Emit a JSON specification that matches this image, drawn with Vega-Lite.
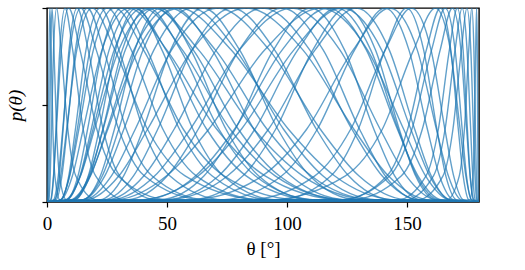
{"$schema":"https://vega.github.io/schema/vega-lite/v6.json","autosize":{"type":"none"},"padding":{"left":47,"top":8,"right":46,"bottom":68},"width":432,"height":194,"background":"white","config":{"view":{"stroke":"black","strokeWidth":1.4},"axis":{"domainColor":"black","tickColor":"black","labelColor":"black","titleColor":"black","labelFont":"Liberation Serif","titleFont":"Liberation Serif","grid":false}},
"data":{"values":[
{"c":1,"t":0,"p":0},{"c":1,"t":0.27,"p":0.011},{"c":1,"t":0.44,"p":0.135},{"c":1,"t":0.6,"p":0.375},{"c":1,"t":0.85,"p":0.783},{"c":1,"t":1.21,"p":1},{"c":1,"t":1.71,"p":0.783},{"c":1,"t":2.44,"p":0.375},{"c":1,"t":3.28,"p":0.135},{"c":1,"t":5.4,"p":0.011},{"c":1,"t":180,"p":0},
{"c":2,"t":0,"p":0},{"c":2,"t":0.55,"p":0.011},{"c":2,"t":0.86,"p":0.135},{"c":2,"t":1.13,"p":0.375},{"c":2,"t":1.54,"p":0.783},{"c":2,"t":2.1,"p":1},{"c":2,"t":2.9,"p":0.783},{"c":2,"t":3.97,"p":0.375},{"c":2,"t":5.2,"p":0.135},{"c":2,"t":8.15,"p":0.011},{"c":2,"t":180,"p":0},
{"c":3,"t":0,"p":0},{"c":3,"t":0.77,"p":0.011},{"c":3,"t":1.34,"p":0.135},{"c":3,"t":1.87,"p":0.375},{"c":3,"t":2.73,"p":0.783},{"c":3,"t":4.03,"p":1},{"c":3,"t":5.89,"p":0.783},{"c":3,"t":8.68,"p":0.375},{"c":3,"t":11.98,"p":0.135},{"c":3,"t":20.7,"p":0.011},{"c":3,"t":180,"p":0},
{"c":4,"t":0,"p":0},{"c":4,"t":1.68,"p":0.011},{"c":4,"t":2.77,"p":0.135},{"c":4,"t":3.75,"p":0.375},{"c":4,"t":5.32,"p":0.783},{"c":4,"t":7.52,"p":1},{"c":4,"t":10.71,"p":0.783},{"c":4,"t":15.08,"p":0.375},{"c":4,"t":20.26,"p":0.135},{"c":4,"t":32.82,"p":0.011},{"c":4,"t":180,"p":0},
{"c":5,"t":0,"p":0},{"c":5,"t":1.5,"p":0.011},{"c":5,"t":2.72,"p":0.135},{"c":5,"t":3.92,"p":0.375},{"c":5,"t":5.95,"p":0.783},{"c":5,"t":9.04,"p":1},{"c":5,"t":13.77,"p":0.783},{"c":5,"t":20.76,"p":0.375},{"c":5,"t":29.47,"p":0.135},{"c":5,"t":50.95,"p":0.011},{"c":5,"t":180,"p":0},
{"c":6,"t":0,"p":0},{"c":6,"t":3.27,"p":0.011},{"c":6,"t":5.14,"p":0.135},{"c":6,"t":6.72,"p":0.375},{"c":6,"t":9.16,"p":0.783},{"c":6,"t":12.55,"p":1},{"c":6,"t":17.19,"p":0.783},{"c":6,"t":23.37,"p":0.375},{"c":6,"t":30.28,"p":0.135},{"c":6,"t":46.01,"p":0.011},{"c":6,"t":180,"p":0},
{"c":7,"t":0,"p":0},{"c":7,"t":2.7,"p":0.011},{"c":7,"t":4.71,"p":0.135},{"c":7,"t":6.56,"p":0.375},{"c":7,"t":9.58,"p":0.783},{"c":7,"t":14.1,"p":1},{"c":7,"t":20.54,"p":0.783},{"c":7,"t":29.88,"p":0.375},{"c":7,"t":40.52,"p":0.135},{"c":7,"t":65.31,"p":0.011},{"c":7,"t":180,"p":0},
{"c":8,"t":0,"p":0},{"c":8,"t":3.78,"p":0.011},{"c":8,"t":6.22,"p":0.135},{"c":8,"t":8.4,"p":0.375},{"c":8,"t":11.83,"p":0.783},{"c":8,"t":16.81,"p":1},{"c":8,"t":23.66,"p":0.783},{"c":8,"t":33.02,"p":0.375},{"c":8,"t":43.69,"p":0.135},{"c":8,"t":66.8,"p":0.011},{"c":8,"t":180,"p":0},
{"c":9,"t":0,"p":0},{"c":9,"t":3.14,"p":0.011},{"c":9,"t":5.68,"p":0.135},{"c":9,"t":8.19,"p":0.375},{"c":9,"t":12.39,"p":0.783},{"c":9,"t":18.79,"p":1},{"c":9,"t":28.32,"p":0.783},{"c":9,"t":41.86,"p":0.375},{"c":9,"t":57.53,"p":0.135},{"c":9,"t":89.77,"p":0.011},{"c":9,"t":180,"p":0},
{"c":10,"t":0,"p":0},{"c":10,"t":5.78,"p":0.011},{"c":10,"t":9.07,"p":0.135},{"c":10,"t":11.84,"p":0.375},{"c":10,"t":16.22,"p":0.783},{"c":10,"t":22.15,"p":1},{"c":10,"t":29.98,"p":0.783},{"c":10,"t":40.13,"p":0.375},{"c":10,"t":51.14,"p":0.135},{"c":10,"t":73.79,"p":0.011},{"c":10,"t":180,"p":0},
{"c":11,"t":0,"p":0},{"c":11,"t":5.67,"p":0.011},{"c":11,"t":9.34,"p":0.135},{"c":11,"t":12.63,"p":0.375},{"c":11,"t":17.89,"p":0.783},{"c":11,"t":25.03,"p":1},{"c":11,"t":35.14,"p":0.783},{"c":11,"t":48.29,"p":0.375},{"c":11,"t":62.19,"p":0.135},{"c":11,"t":89.66,"p":0.011},{"c":11,"t":180,"p":0},
{"c":12,"t":0,"p":0},{"c":12,"t":5.5,"p":0.011},{"c":12,"t":9.5,"p":0.135},{"c":12,"t":13.27,"p":0.375},{"c":12,"t":19.3,"p":0.783},{"c":12,"t":28.18,"p":1},{"c":12,"t":40.26,"p":0.783},{"c":12,"t":56.81,"p":0.375},{"c":12,"t":73.74,"p":0.135},{"c":12,"t":104.77,"p":0.011},{"c":12,"t":180,"p":0},
{"c":13,"t":0,"p":0},{"c":13,"t":8.28,"p":0.011},{"c":13,"t":12.94,"p":0.135},{"c":13,"t":16.91,"p":0.375},{"c":13,"t":23.02,"p":0.783},{"c":13,"t":31.08,"p":1},{"c":13,"t":41.7,"p":0.783},{"c":13,"t":55.19,"p":0.375},{"c":13,"t":68.72,"p":0.135},{"c":13,"t":93.8,"p":0.011},{"c":13,"t":180,"p":0},
{"c":14,"t":0,"p":0},{"c":14,"t":5.8,"p":0.011},{"c":14,"t":10.6,"p":0.135},{"c":14,"t":15.08,"p":0.375},{"c":14,"t":22.87,"p":0.783},{"c":14,"t":34.16,"p":1},{"c":14,"t":49.96,"p":0.783},{"c":14,"t":70.75,"p":0.375},{"c":14,"t":90.85,"p":0.135},{"c":14,"t":123,"p":0.011},{"c":14,"t":180,"p":0},
{"c":15,"t":0,"p":0},{"c":15,"t":8.36,"p":0.011},{"c":15,"t":13.74,"p":0.135},{"c":15,"t":18.44,"p":0.375},{"c":15,"t":25.87,"p":0.783},{"c":15,"t":36.22,"p":1},{"c":15,"t":49.59,"p":0.783},{"c":15,"t":66.54,"p":0.375},{"c":15,"t":82.97,"p":0.135},{"c":15,"t":110.9,"p":0.011},{"c":15,"t":180,"p":0},
{"c":16,"t":0,"p":0},{"c":16,"t":11.56,"p":0.011},{"c":16,"t":17.22,"p":0.135},{"c":16,"t":21.78,"p":0.375},{"c":16,"t":28.57,"p":0.783},{"c":16,"t":37.2,"p":1},{"c":16,"t":47.92,"p":0.783},{"c":16,"t":60.81,"p":0.375},{"c":16,"t":73.42,"p":0.135},{"c":16,"t":95.96,"p":0.011},{"c":16,"t":180,"p":0},
{"c":17,"t":0,"p":0},{"c":17,"t":8.05,"p":0.011},{"c":17,"t":13.91,"p":0.135},{"c":17,"t":19.18,"p":0.375},{"c":17,"t":27.99,"p":0.783},{"c":17,"t":40.02,"p":1},{"c":17,"t":56.48,"p":0.783},{"c":17,"t":76.33,"p":0.375},{"c":17,"t":95.05,"p":0.135},{"c":17,"t":124.14,"p":0.011},{"c":17,"t":180,"p":0},
{"c":18,"t":0,"p":0},{"c":18,"t":11.42,"p":0.011},{"c":18,"t":17.86,"p":0.135},{"c":18,"t":23.24,"p":0.375},{"c":18,"t":31.35,"p":0.783},{"c":18,"t":42.1,"p":1},{"c":18,"t":55.67,"p":0.783},{"c":18,"t":71.66,"p":0.375},{"c":18,"t":86.71,"p":0.135},{"c":18,"t":111.76,"p":0.011},{"c":18,"t":180,"p":0},
{"c":19,"t":0,"p":0},{"c":19,"t":7.68,"p":0.011},{"c":19,"t":13.98,"p":0.135},{"c":19,"t":19.8,"p":0.375},{"c":19,"t":29.9,"p":0.783},{"c":19,"t":44.22,"p":1},{"c":19,"t":63.23,"p":0.783},{"c":19,"t":86.26,"p":0.375},{"c":19,"t":106.53,"p":0.135},{"c":19,"t":135.29,"p":0.011},{"c":19,"t":180,"p":0},
{"c":20,"t":0,"p":0},{"c":20,"t":10.65,"p":0.011},{"c":20,"t":17.46,"p":0.135},{"c":20,"t":23.39,"p":0.375},{"c":20,"t":32.62,"p":0.783},{"c":20,"t":45.24,"p":1},{"c":20,"t":61,"p":0.783},{"c":20,"t":79.73,"p":0.375},{"c":20,"t":96.75,"p":0.135},{"c":20,"t":123.19,"p":0.011},{"c":20,"t":180,"p":0},
{"c":21,"t":0,"p":0},{"c":21,"t":14.97,"p":0.011},{"c":21,"t":22.26,"p":0.135},{"c":21,"t":28.08,"p":0.375},{"c":21,"t":36.59,"p":0.783},{"c":21,"t":47.19,"p":1},{"c":21,"t":59.96,"p":0.783},{"c":21,"t":74.59,"p":0.375},{"c":21,"t":88.13,"p":0.135},{"c":21,"t":110.42,"p":0.011},{"c":21,"t":180,"p":0},
{"c":22,"t":0,"p":0},{"c":22,"t":10.55,"p":0.011},{"c":22,"t":18.17,"p":0.135},{"c":22,"t":24.94,"p":0.375},{"c":22,"t":36.19,"p":0.783},{"c":22,"t":51.05,"p":1},{"c":22,"t":70.22,"p":0.783},{"c":22,"t":91.7,"p":0.375},{"c":22,"t":110.05,"p":0.135},{"c":22,"t":135.94,"p":0.011},{"c":22,"t":180,"p":0},
{"c":23,"t":0,"p":0},{"c":23,"t":14.79,"p":0.011},{"c":23,"t":23.07,"p":0.135},{"c":23,"t":29.9,"p":0.375},{"c":23,"t":40.02,"p":0.783},{"c":23,"t":53.14,"p":1},{"c":23,"t":68.83,"p":0.783},{"c":23,"t":86.26,"p":0.375},{"c":23,"t":101.57,"p":0.135},{"c":23,"t":124.86,"p":0.011},{"c":23,"t":180,"p":0},
{"c":24,"t":0,"p":0},{"c":24,"t":9.88,"p":0.011},{"c":24,"t":17.94,"p":0.135},{"c":24,"t":25.35,"p":0.375},{"c":24,"t":37.94,"p":0.783},{"c":24,"t":55.19,"p":1},{"c":24,"t":76.78,"p":0.783},{"c":24,"t":100.61,"p":0.375},{"c":24,"t":119.76,"p":0.135},{"c":24,"t":144.56,"p":0.011},{"c":24,"t":180,"p":0},
{"c":25,"t":0,"p":0},{"c":25,"t":14.75,"p":0.011},{"c":25,"t":24.09,"p":0.135},{"c":25,"t":32.01,"p":0.375},{"c":25,"t":44.51,"p":0.783},{"c":25,"t":60.15,"p":1},{"c":25,"t":78.71,"p":0.783},{"c":25,"t":98.56,"p":0.375},{"c":25,"t":114.91,"p":0.135},{"c":25,"t":137.61,"p":0.011},{"c":25,"t":180,"p":0},
{"c":26,"t":0,"p":0},{"c":26,"t":21.87,"p":0.011},{"c":26,"t":31.94,"p":0.135},{"c":26,"t":40.02,"p":0.375},{"c":26,"t":51.48,"p":0.783},{"c":26,"t":65.09,"p":1},{"c":26,"t":80.3,"p":0.783},{"c":26,"t":96.18,"p":0.375},{"c":26,"t":109.46,"p":0.135},{"c":26,"t":129.38,"p":0.011},{"c":26,"t":180,"p":0},
{"c":27,"t":0,"p":0},{"c":27,"t":15.62,"p":0.011},{"c":27,"t":26.85,"p":0.135},{"c":27,"t":36.76,"p":0.375},{"c":27,"t":51.86,"p":0.783},{"c":27,"t":71.12,"p":1},{"c":27,"t":92.67,"p":0.783},{"c":27,"t":113.89,"p":0.375},{"c":27,"t":129.92,"p":0.135},{"c":27,"t":149.72,"p":0.011},{"c":27,"t":180,"p":0},
{"c":28,"t":0,"p":0},{"c":28,"t":23.44,"p":0.011},{"c":28,"t":36.05,"p":0.135},{"c":28,"t":46.13,"p":0.375},{"c":28,"t":60.38,"p":0.783},{"c":28,"t":77.01,"p":1},{"c":28,"t":94.88,"p":0.783},{"c":28,"t":112.24,"p":0.375},{"c":28,"t":125.67,"p":0.135},{"c":28,"t":143.68,"p":0.011},{"c":28,"t":180,"p":0},
{"c":29,"t":0,"p":0},{"c":29,"t":16.74,"p":0.011},{"c":29,"t":29.98,"p":0.135},{"c":29,"t":41.9,"p":0.375},{"c":29,"t":60.43,"p":0.783},{"c":29,"t":83.02,"p":1},{"c":29,"t":106.69,"p":0.783},{"c":29,"t":127.86,"p":0.375},{"c":29,"t":142.2,"p":0.135},{"c":29,"t":158.7,"p":0.011},{"c":29,"t":180,"p":0},
{"c":30,"t":0,"p":0},{"c":30,"t":25.16,"p":0.011},{"c":30,"t":40.4,"p":0.135},{"c":30,"t":52.95,"p":0.375},{"c":30,"t":70.48,"p":0.783},{"c":30,"t":90,"p":1},{"c":30,"t":109.52,"p":0.783},{"c":30,"t":127.05,"p":0.375},{"c":30,"t":139.6,"p":0.135},{"c":30,"t":154.84,"p":0.011},{"c":30,"t":180,"p":0},
{"c":31,"t":0,"p":0},{"c":31,"t":33.32,"p":0.011},{"c":31,"t":50.16,"p":0.135},{"c":31,"t":63.01,"p":0.375},{"c":31,"t":80.07,"p":0.783},{"c":31,"t":97.94,"p":1},{"c":31,"t":115.12,"p":0.783},{"c":31,"t":130.24,"p":0.375},{"c":31,"t":140.95,"p":0.135},{"c":31,"t":154.57,"p":0.011},{"c":31,"t":180,"p":0},
{"c":32,"t":0,"p":0},{"c":32,"t":26.82,"p":0.011},{"c":32,"t":44.91,"p":0.135},{"c":32,"t":59.67,"p":0.375},{"c":32,"t":80.13,"p":0.783},{"c":32,"t":101.97,"p":1},{"c":32,"t":122.09,"p":0.783},{"c":32,"t":138.83,"p":0.375},{"c":32,"t":149.69,"p":0.135},{"c":32,"t":162.19,"p":0.011},{"c":32,"t":180,"p":0},
{"c":33,"t":0,"p":0},{"c":33,"t":46.74,"p":0.011},{"c":33,"t":65.47,"p":0.135},{"c":33,"t":78.43,"p":0.375},{"c":33,"t":94.31,"p":0.783},{"c":33,"t":109.84,"p":1},{"c":33,"t":124,"p":0.783},{"c":33,"t":136.19,"p":0.375},{"c":33,"t":144.86,"p":0.135},{"c":33,"t":156.06,"p":0.011},{"c":33,"t":180,"p":0},
{"c":34,"t":0,"p":0},{"c":34,"t":28.76,"p":0.011},{"c":34,"t":49.84,"p":0.135},{"c":34,"t":67.39,"p":0.375},{"c":34,"t":90.68,"p":0.783},{"c":34,"t":113.89,"p":1},{"c":34,"t":133.58,"p":0.783},{"c":34,"t":148.62,"p":0.375},{"c":34,"t":157.72,"p":0.135},{"c":34,"t":167.72,"p":0.011},{"c":34,"t":180,"p":0},
{"c":35,"t":0,"p":0},{"c":35,"t":40.06,"p":0.011},{"c":35,"t":62,"p":0.135},{"c":35,"t":78.09,"p":0.375},{"c":35,"t":97.94,"p":0.783},{"c":35,"t":116.99,"p":1},{"c":35,"t":133.09,"p":0.783},{"c":35,"t":146,"p":0.375},{"c":35,"t":154.57,"p":0.135},{"c":35,"t":164.41,"p":0.011},{"c":35,"t":180,"p":0},
{"c":36,"t":0,"p":0},{"c":36,"t":49.35,"p":0.011},{"c":36,"t":71.55,"p":0.135},{"c":36,"t":86.6,"p":0.375},{"c":36,"t":104.45,"p":0.783},{"c":36,"t":120.85,"p":1},{"c":36,"t":134.92,"p":0.783},{"c":36,"t":146.34,"p":0.375},{"c":36,"t":154.02,"p":0.135},{"c":36,"t":163.21,"p":0.011},{"c":36,"t":180,"p":0},
{"c":37,"t":0,"p":0},{"c":37,"t":39.08,"p":0.011},{"c":37,"t":63.07,"p":0.135},{"c":37,"t":80.98,"p":0.375},{"c":37,"t":102.82,"p":0.783},{"c":37,"t":122.81,"p":1},{"c":37,"t":139.44,"p":0.783},{"c":37,"t":151.6,"p":0.375},{"c":37,"t":159.43,"p":0.135},{"c":37,"t":168.08,"p":0.011},{"c":37,"t":180,"p":0},
{"c":38,"t":0,"p":0},{"c":38,"t":60.24,"p":0.011},{"c":38,"t":81.66,"p":0.135},{"c":38,"t":95.27,"p":0.375},{"c":38,"t":110.74,"p":0.783},{"c":38,"t":124.81,"p":1},{"c":38,"t":136.88,"p":0.783},{"c":38,"t":146.78,"p":0.375},{"c":38,"t":153.56,"p":0.135},{"c":38,"t":162.06,"p":0.011},{"c":38,"t":180,"p":0},
{"c":39,"t":0,"p":0},{"c":39,"t":50.16,"p":0.011},{"c":39,"t":75.29,"p":0.135},{"c":39,"t":92.27,"p":0.375},{"c":39,"t":111.65,"p":0.783},{"c":39,"t":128.95,"p":1},{"c":39,"t":142.64,"p":0.783},{"c":39,"t":153.21,"p":0.375},{"c":39,"t":160.07,"p":0.135},{"c":39,"t":167.83,"p":0.011},{"c":39,"t":180,"p":0},
{"c":40,"t":0,"p":0},{"c":40,"t":72.51,"p":0.011},{"c":40,"t":97.83,"p":0.135},{"c":40,"t":112.61,"p":0.375},{"c":40,"t":128.14,"p":0.783},{"c":40,"t":140.88,"p":1},{"c":40,"t":150.83,"p":0.783},{"c":40,"t":158.5,"p":0.375},{"c":40,"t":163.52,"p":0.135},{"c":40,"t":169.43,"p":0.011},{"c":40,"t":180,"p":0},
{"c":41,"t":0,"p":0},{"c":41,"t":59.86,"p":0.011},{"c":41,"t":89.72,"p":0.135},{"c":41,"t":108.18,"p":0.375},{"c":41,"t":127.52,"p":0.783},{"c":41,"t":142.8,"p":1},{"c":41,"t":154.3,"p":0.783},{"c":41,"t":162.26,"p":0.375},{"c":41,"t":167.22,"p":0.135},{"c":41,"t":172.64,"p":0.011},{"c":41,"t":180,"p":0},
{"c":42,"t":0,"p":0},{"c":42,"t":96.64,"p":0.011},{"c":42,"t":118.33,"p":0.135},{"c":42,"t":129.71,"p":0.375},{"c":42,"t":140.85,"p":0.783},{"c":42,"t":149.85,"p":1},{"c":42,"t":156.95,"p":0.783},{"c":42,"t":162.47,"p":0.375},{"c":42,"t":166.17,"p":0.135},{"c":42,"t":170.76,"p":0.011},{"c":42,"t":180,"p":0},
{"c":43,"t":0,"p":0},{"c":43,"t":83.7,"p":0.011},{"c":43,"t":111.6,"p":0.135},{"c":43,"t":126.52,"p":0.375},{"c":43,"t":140.92,"p":0.783},{"c":43,"t":151.82,"p":1},{"c":43,"t":160.04,"p":0.783},{"c":43,"t":165.79,"p":0.375},{"c":43,"t":169.44,"p":0.135},{"c":43,"t":173.58,"p":0.011},{"c":43,"t":180,"p":0},
{"c":44,"t":0,"p":0},{"c":44,"t":92.44,"p":0.011},{"c":44,"t":124.33,"p":0.135},{"c":44,"t":139.71,"p":0.375},{"c":44,"t":152.74,"p":0.783},{"c":44,"t":161.88,"p":1},{"c":44,"t":168.1,"p":0.783},{"c":44,"t":172.13,"p":0.375},{"c":44,"t":174.52,"p":0.135},{"c":44,"t":176.98,"p":0.011},{"c":44,"t":180,"p":0},
{"c":45,"t":0,"p":0},{"c":45,"t":122.86,"p":0.011},{"c":45,"t":141.69,"p":0.135},{"c":45,"t":150.26,"p":0.375},{"c":45,"t":158.04,"p":0.783},{"c":45,"t":163.93,"p":1},{"c":45,"t":168.25,"p":0.783},{"c":45,"t":171.38,"p":0.375},{"c":45,"t":173.41,"p":0.135},{"c":45,"t":175.8,"p":0.011},{"c":45,"t":180,"p":0},
{"c":46,"t":0,"p":0},{"c":46,"t":122.14,"p":0.011},{"c":46,"t":142.87,"p":0.135},{"c":46,"t":152.03,"p":0.375},{"c":46,"t":160.22,"p":0.783},{"c":46,"t":165.9,"p":1},{"c":46,"t":170.05,"p":0.783},{"c":46,"t":172.99,"p":0.375},{"c":46,"t":174.79,"p":0.135},{"c":46,"t":176.84,"p":0.011},{"c":46,"t":180,"p":0},
{"c":47,"t":0,"p":0},{"c":47,"t":126.57,"p":0.011},{"c":47,"t":147.69,"p":0.135},{"c":47,"t":156.37,"p":0.375},{"c":47,"t":163.81,"p":0.783},{"c":47,"t":168.92,"p":1},{"c":47,"t":172.48,"p":0.783},{"c":47,"t":174.85,"p":0.375},{"c":47,"t":176.31,"p":0.135},{"c":47,"t":177.88,"p":0.011},{"c":47,"t":180,"p":0},
{"c":48,"t":0,"p":0},{"c":48,"t":146.07,"p":0.011},{"c":48,"t":157.93,"p":0.135},{"c":48,"t":163.07,"p":0.375},{"c":48,"t":167.65,"p":0.783},{"c":48,"t":170.96,"p":1},{"c":48,"t":173.38,"p":0.783},{"c":48,"t":175.17,"p":0.375},{"c":48,"t":176.32,"p":0.135},{"c":48,"t":177.64,"p":0.011},{"c":48,"t":180,"p":0},
{"c":49,"t":0,"p":0},{"c":49,"t":149.22,"p":0.011},{"c":49,"t":161.04,"p":0.135},{"c":49,"t":165.86,"p":0.375},{"c":49,"t":170.02,"p":0.783},{"c":49,"t":172.97,"p":1},{"c":49,"t":175.03,"p":0.783},{"c":49,"t":176.52,"p":0.375},{"c":49,"t":177.41,"p":0.135},{"c":49,"t":178.43,"p":0.011},{"c":49,"t":180,"p":0},
{"c":50,"t":0,"p":0},{"c":50,"t":154.32,"p":0.011},{"c":50,"t":165,"p":0.135},{"c":50,"t":169.14,"p":0.375},{"c":50,"t":172.65,"p":0.783},{"c":50,"t":174.96,"p":1},{"c":50,"t":176.59,"p":0.783},{"c":50,"t":177.67,"p":0.375},{"c":50,"t":178.33,"p":0.135},{"c":50,"t":179.04,"p":0.011},{"c":50,"t":180,"p":0},
{"c":51,"t":0,"p":0},{"c":51,"t":166.5,"p":0.011},{"c":51,"t":171.79,"p":0.135},{"c":51,"t":173.92,"p":0.375},{"c":51,"t":175.72,"p":0.783},{"c":51,"t":176.98,"p":1},{"c":51,"t":177.88,"p":0.783},{"c":51,"t":178.5,"p":0.375},{"c":51,"t":178.89,"p":0.135},{"c":51,"t":179.32,"p":0.011},{"c":51,"t":180,"p":0},
{"c":52,"t":0,"p":0},{"c":52,"t":176.11,"p":0.011},{"c":52,"t":177.52,"p":0.135},{"c":52,"t":178.11,"p":0.375},{"c":52,"t":178.62,"p":0.783},{"c":52,"t":179,"p":1},{"c":52,"t":179.27,"p":0.783},{"c":52,"t":179.46,"p":0.375},{"c":52,"t":179.59,"p":0.135},{"c":52,"t":179.74,"p":0.011},{"c":52,"t":180,"p":0}
]},
"mark":{"type":"line","interpolate":"monotone","color":"#1f77b4","opacity":0.7,"strokeWidth":1.4,"clip":true},
"encoding":{
"x":{"field":"t","type":"quantitative","scale":{"domain":[0,180],"nice":false,"zero":false},"axis":{"values":[0,50,100,150],"title":"θ [°]","labelFontSize":19,"titleFontSize":19,"titleFontWeight":"normal","tickSize":5,"tickWidth":1.2,"labelPadding":7,"titlePadding":6,"labelFlush":false,"domain":false}},
"y":{"field":"p","type":"quantitative","scale":{"domain":[0,1],"nice":false},"axis":{"values":[0,0.5,1],"labels":false,"title":"p(θ)","titleFontSize":19,"titleFontWeight":"normal","titleFontStyle":"italic","tickSize":5,"tickWidth":1.2,"titlePadding":16,"domain":false}},
"detail":{"field":"c","type":"nominal"}
}}
